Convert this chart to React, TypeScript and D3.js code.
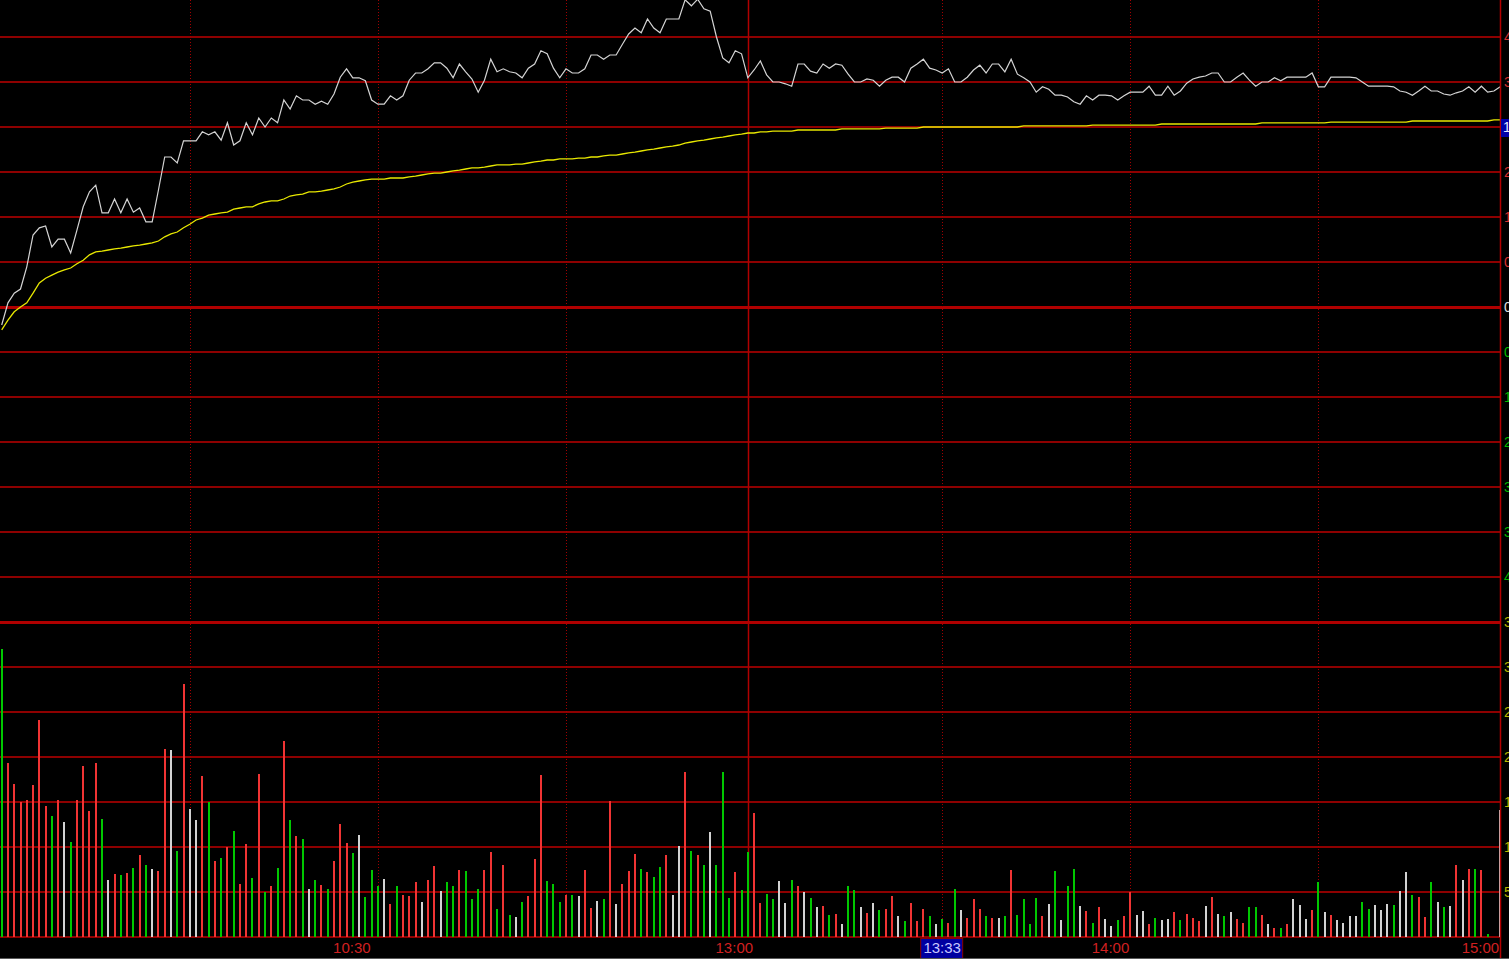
import { useEffect, useRef } from "react";
import * as d3 from "d3";

const W = 1509;
const H = 959;

// percent change vs previous close, one value per minute
const priceChg = [
  -0.3, 0.07, 0.23, 0.3, 0.67, 1.2, 1.32, 1.35, 1.0, 1.13,
  1.13, 0.9, 1.28, 1.67, 1.92, 2.03, 1.57, 1.57, 1.8, 1.57,
  1.8, 1.58, 1.65, 1.42, 1.42, 1.95, 2.5, 2.5, 2.4, 2.77,
  2.77, 2.77, 2.92, 2.87, 2.92, 2.78, 3.07, 2.7, 2.77, 3.07,
  2.87, 3.15, 3.0, 3.15, 3.07, 3.45, 3.3, 3.52, 3.45, 3.45,
  3.38, 3.43, 3.38, 3.55, 3.83, 3.97, 3.82, 3.82, 3.77, 3.45,
  3.38, 3.38, 3.52, 3.45, 3.52, 3.78, 3.9, 3.9, 3.97, 4.07,
  4.07, 3.98, 3.82, 4.05, 3.92, 3.8, 3.58, 3.78, 4.13, 3.92,
  3.97, 3.92, 3.9, 3.82, 3.98, 4.05, 4.27, 4.22, 3.98, 3.82,
  3.97, 3.9, 3.9, 3.97, 4.2, 4.2, 4.13, 4.2, 4.2, 4.38,
  4.55, 4.65, 4.57, 4.8, 4.65, 4.57, 4.8, 4.8, 4.8, 5.12,
  5.02, 5.13, 4.97, 4.93, 4.5, 4.15, 4.07, 4.27, 4.22, 3.82,
  3.95, 4.1, 3.87, 3.75, 3.75, 3.72, 3.68, 4.05, 4.05, 3.93,
  3.9, 4.05, 3.98, 4.05, 4.03, 3.88, 3.75, 3.75, 3.8, 3.78,
  3.68, 3.78, 3.83, 3.83, 3.75, 3.98, 4.05, 4.13, 3.98, 3.95,
  3.9, 3.97, 3.75, 3.75, 3.83, 3.95, 4.03, 3.9, 4.05, 4.05,
  3.92, 4.13, 3.88, 3.82, 3.75, 3.58, 3.67, 3.63, 3.53, 3.53,
  3.5, 3.42, 3.38, 3.52, 3.45, 3.53, 3.53, 3.52, 3.45, 3.52,
  3.58, 3.58, 3.58, 3.68, 3.53, 3.53, 3.68, 3.53, 3.6, 3.73,
  3.8, 3.83, 3.85, 3.9, 3.9, 3.75, 3.75, 3.83, 3.9, 3.78,
  3.68, 3.75, 3.75, 3.82, 3.77, 3.83, 3.83, 3.83, 3.83, 3.9,
  3.67, 3.67, 3.83, 3.83, 3.83, 3.83, 3.82, 3.75, 3.68, 3.68,
  3.68, 3.68, 3.67, 3.6, 3.58, 3.53, 3.6, 3.68, 3.6, 3.6,
  3.55, 3.53, 3.57, 3.6, 3.67, 3.58, 3.68, 3.58, 3.6, 3.67,
];

// average price line, percent change
const avgChg = [
  -0.38, -0.22, -0.08, 0.0, 0.07, 0.23, 0.4, 0.48, 0.53, 0.58,
  0.62, 0.65, 0.72, 0.78, 0.87, 0.92, 0.93, 0.95, 0.97, 0.98,
  1.0, 1.02, 1.03, 1.05, 1.07, 1.1, 1.17, 1.22, 1.25, 1.32,
  1.38, 1.45, 1.48, 1.53, 1.55, 1.57, 1.58, 1.63, 1.65, 1.67,
  1.67, 1.72, 1.75, 1.77, 1.77, 1.8, 1.85, 1.87, 1.88, 1.92,
  1.92, 1.93, 1.95, 1.97, 2.0, 2.05, 2.08, 2.1, 2.12, 2.13,
  2.13, 2.13, 2.15, 2.15, 2.15, 2.17, 2.18, 2.2, 2.22, 2.23,
  2.23, 2.25, 2.27, 2.28, 2.3, 2.32, 2.32, 2.33, 2.35, 2.37,
  2.37, 2.37, 2.38, 2.38, 2.4, 2.42, 2.43, 2.45, 2.45, 2.47,
  2.47, 2.47, 2.48, 2.48, 2.5, 2.5, 2.52, 2.53, 2.53, 2.55,
  2.57, 2.58, 2.6, 2.62, 2.63, 2.65, 2.67, 2.68, 2.7, 2.73,
  2.75, 2.77, 2.78, 2.8, 2.82, 2.83, 2.85, 2.87, 2.88, 2.9,
  2.9, 2.92, 2.92, 2.93, 2.93, 2.93, 2.93, 2.95, 2.95, 2.95,
  2.95, 2.95, 2.95, 2.95, 2.97, 2.97, 2.97, 2.97, 2.97, 2.97,
  2.97, 2.98, 2.98, 2.98, 2.98, 2.98, 2.98, 3.0, 3.0, 3.0,
  3.0, 3.0, 3.0, 3.0, 3.0, 3.0, 3.0, 3.0, 3.0, 3.0,
  3.0, 3.0, 3.0, 3.02, 3.02, 3.02, 3.02, 3.02, 3.02, 3.02,
  3.02, 3.02, 3.02, 3.02, 3.03, 3.03, 3.03, 3.03, 3.03, 3.03,
  3.03, 3.03, 3.03, 3.03, 3.03, 3.05, 3.05, 3.05, 3.05, 3.05,
  3.05, 3.05, 3.05, 3.05, 3.05, 3.05, 3.05, 3.05, 3.05, 3.05,
  3.05, 3.07, 3.07, 3.07, 3.07, 3.07, 3.07, 3.07, 3.07, 3.07,
  3.07, 3.07, 3.08, 3.08, 3.08, 3.08, 3.08, 3.08, 3.08, 3.08,
  3.08, 3.08, 3.08, 3.08, 3.08, 3.1, 3.1, 3.1, 3.1, 3.1,
  3.1, 3.1, 3.1, 3.1, 3.1, 3.1, 3.1, 3.1, 3.12, 3.12,
];

// volume per minute (hundreds of lots)
const volume = [
  320, 193, 170, 150, 152, 169, 241, 146, 134, 152,
  128, 106, 152, 190, 140, 193, 131, 63, 70, 69,
  71, 77, 91, 80, 76, 73, 209, 208, 96, 281,
  142, 130, 179, 150, 84, 88, 100, 118, 59, 103,
  66, 181, 50, 57, 77, 218, 130, 112, 109, 53,
  63, 58, 53, 84, 126, 104, 93, 113, 44, 74,
  57, 64, 37, 57, 47, 46, 61, 39, 63, 79,
  51, 61, 57, 74, 73, 42, 53, 74, 94, 31,
  80, 24, 22, 39, 46, 87, 180, 62, 59, 39,
  47, 47, 46, 74, 32, 40, 42, 151, 37, 59,
  73, 92, 76, 72, 67, 78, 91, 47, 101, 183,
  96, 91, 80, 117, 80, 183, 43, 72, 52, 94,
  138, 38, 48, 42, 62, 38, 63, 57, 50, 43,
  33, 34, 24, 26, 14, 57, 52, 33, 27, 38,
  30, 31, 46, 23, 18, 38, 18, 31, 23, 14,
  20, 16, 53, 30, 21, 42, 31, 23, 21, 21,
  23, 74, 24, 42, 14, 43, 23, 37, 73, 19,
  57, 76, 34, 29, 16, 33, 20, 12, 19, 23,
  50, 24, 29, 14, 21, 19, 20, 28, 19, 26,
  21, 18, 34, 44, 26, 23, 28, 20, 16, 33,
  33, 24, 14, 10, 10, 14, 42, 36, 20, 30,
  61, 28, 24, 19, 16, 23, 23, 39, 31, 36,
  30, 37, 36, 51, 72, 47, 44, 22, 61, 39,
  33, 34, 80, 63, 76, 76, 74, 3, 0, 141,
];

// r = up tick, g = down tick, w = unchanged
const volDir = (
  "grrrrrrrgr" + "wgrrrrgwrg" + "rgrgwrrwgr" + "wwrgrgrgrr" +
  "grgrgrgrgw" + "grgrrrgwgg" + "gwrgrrrwrr" + "wggrgggrrg" +
  "rgwgrrrggg" + "rgwrrwgrwr" + "rrgrggrwwr" + "grgwgggrgg" +
  "rrggwwgrwg" + "wrgrwggwrw" + "grrwgrrrgw" + "grgwrrrgrw" +
  "grggggrwgw" + "ggwrgrwwgr" + "rwwrgwwrgr" + "rrwrwgwrrg" +
  "grwrgrwwwr" + "gwrwwwwggw" + "wwgwwgrrgw" + "gwrwrgrgww"
).split("");

const pctTicks = [-4.5, -3.75, -3, -2.25, -1.5, -0.75, 0, 0.75, 1.5, 2.25, 3, 3.75, 4.5];
const volTicks = [0, 50, 100, 150, 200, 250, 300, 350];
const timeLabels = ["10:30", "13:00", "14:00", "15:00"];
const timeLabelIdx = [59, 120, 180, 239];
const halfHourIdx = [30, 60, 90, 150, 180, 210];
const middayIdx = 119;
const cursorLabel = "13:33";
const cursorIdx = 150;
const markerPct = 3;
const markerLabel = "13.05";

const dirColor: Record<string, string> = {
  r: "#f03434",
  g: "#00c800",
  w: "#d2d2d2",
};

export default function App() {
  const svgRef = useRef<SVGSVGElement>(null);

  useEffect(() => {
    if (!svgRef.current) return;
    d3.select(svgRef.current).selectAll("*").remove();

    const svg = d3.select(svgRef.current).attr("width", W).attr("height", H);
    const font = "Arial, 'Liberation Sans', sans-serif";

    svg.append("rect").attr("width", W).attr("height", H).attr("fill", "#000");

    const x = d3.scaleLinear().domain([0, 239]).range([1.7, 1500.2]);
    const y = d3.scaleLinear().domain([-5.25, 5.25]).range([622, -8]);
    const yv = d3.scaleLinear().domain([0, 350]).range([937, 622]);
    const axisX = 1500.5;

    // horizontal grid
    const grid = svg.append("g").attr("shape-rendering", "crispEdges");
    grid
      .selectAll("line.p")
      .data(pctTicks)
      .join("line")
      .attr("x1", 0)
      .attr("x2", axisX)
      .attr("y1", (d) => y(d))
      .attr("y2", (d) => y(d))
      .attr("stroke", (d) => (d === 0 ? "#b00000" : "#8e0000"))
      .attr("stroke-width", (d) => (d === 0 ? 3 : 2));
    grid
      .selectAll("line.v")
      .data(volTicks)
      .join("line")
      .attr("x1", 0)
      .attr("x2", axisX)
      .attr("y1", (d) => yv(d))
      .attr("y2", (d) => yv(d))
      .attr("stroke", (d) => (d === 350 ? "#b00000" : "#8e0000"))
      .attr("stroke-width", (d) => (d === 350 ? 3 : 2));

    // vertical half-hour lines
    svg
      .append("g")
      .selectAll("line")
      .data(halfHourIdx)
      .join("line")
      .attr("x1", (d) => Math.round(x(d)) + 0.5)
      .attr("x2", (d) => Math.round(x(d)) + 0.5)
      .attr("y1", 0)
      .attr("y2", 937)
      .attr("stroke", "#a00000")
      .attr("stroke-width", 1)
      .attr("stroke-dasharray", "1,2");

    svg
      .append("line")
      .attr("x1", Math.round(x(middayIdx)) + 0.5)
      .attr("x2", Math.round(x(middayIdx)) + 0.5)
      .attr("y1", 0)
      .attr("y2", 937)
      .attr("stroke", "#b00000")
      .attr("stroke-width", 1.5);

    // volume bars
    svg
      .append("g")
      .attr("shape-rendering", "crispEdges")
      .selectAll("rect")
      .data(volume)
      .join("rect")
      .attr("x", (_, i) => Math.round(x(i)) - 1)
      .attr("width", 2)
      .attr("y", (d) => yv(d))
      .attr("height", (d) => yv(0) - yv(d))
      .attr("fill", (_, i) => dirColor[volDir[i]]);

    // average price and price lines
    const chgLine = d3
      .line<number>()
      .x((_, i) => x(i))
      .y((d) => y(d));

    svg
      .append("path")
      .datum(avgChg)
      .attr("d", chgLine)
      .attr("fill", "none")
      .attr("stroke", "#e8e800")
      .attr("stroke-width", 1.3);

    svg
      .append("path")
      .datum(priceChg)
      .attr("d", chgLine)
      .attr("fill", "none")
      .attr("stroke", "#d4d4d4")
      .attr("stroke-width", 1.2);

    // right axis
    svg
      .append("line")
      .attr("x1", axisX)
      .attr("x2", axisX)
      .attr("y1", 0)
      .attr("y2", H)
      .attr("stroke", "#b40000")
      .attr("stroke-width", 1.5);

    // the marker box covers its own grid label
    svg
      .append("g")
      .selectAll("text")
      .data(pctTicks.filter((d) => d !== markerPct))
      .join("text")
      .attr("x", 1504)
      .attr("y", (d) => y(d))
      .attr("dy", "0.35em")
      .attr("font-family", font)
      .attr("font-size", 14)
      .attr("fill", (d) => (d > 0 ? "#d83030" : d < 0 ? "#00b800" : "#e0e0e0"))
      .text((d) => `${Math.abs(d).toFixed(2)}%`);

    svg
      .append("g")
      .selectAll("text")
      .data(volTicks.filter((d) => d > 0))
      .join("text")
      .attr("x", 1504)
      .attr("y", (d) => yv(d))
      .attr("dy", "0.35em")
      .attr("font-family", font)
      .attr("font-size", 14)
      .attr("fill", "#b8b800")
      .text((d) => `${d}`);

    // marker box on the right axis
    svg
      .append("rect")
      .attr("x", 1501)
      .attr("y", y(markerPct) - 8)
      .attr("width", 10)
      .attr("height", 18)
      .attr("fill", "#0000a8");
    svg
      .append("text")
      .attr("x", 1503)
      .attr("y", y(markerPct))
      .attr("dy", "0.35em")
      .attr("font-family", font)
      .attr("font-size", 14)
      .attr("fill", "#e8e8ff")
      .text(markerLabel);

    // time labels
    svg
      .append("g")
      .selectAll("text")
      .data(timeLabels)
      .join("text")
      .attr("x", (_, i) => x(timeLabelIdx[i]) - 1)
      .attr("y", 953)
      .attr("text-anchor", "end")
      .attr("font-family", font)
      .attr("font-size", 15)
      .attr("fill", "#d02020")
      .text((d) => d);

    const cx = x(cursorIdx);
    svg
      .append("rect")
      .attr("x", cx - 21.5)
      .attr("y", 938.5)
      .attr("width", 42)
      .attr("height", 21)
      .attr("fill", "#0000a0")
      .attr("stroke", "#8a0000")
      .attr("stroke-width", 1);
    svg
      .append("text")
      .attr("x", cx)
      .attr("y", 953)
      .attr("text-anchor", "middle")
      .attr("font-family", font)
      .attr("font-size", 15)
      .attr("fill", "#c8c8ff")
      .text(cursorLabel);

    svg
      .append("line")
      .attr("x1", 0)
      .attr("x2", W)
      .attr("y1", 958.5)
      .attr("y2", 958.5)
      .attr("stroke", "#5a5a5a")
      .attr("stroke-width", 1);
  }, []);

  return (
    <svg
      ref={svgRef}
      style={{ position: "absolute", left: 0, top: 0, display: "block" }}
    />
  );
}
